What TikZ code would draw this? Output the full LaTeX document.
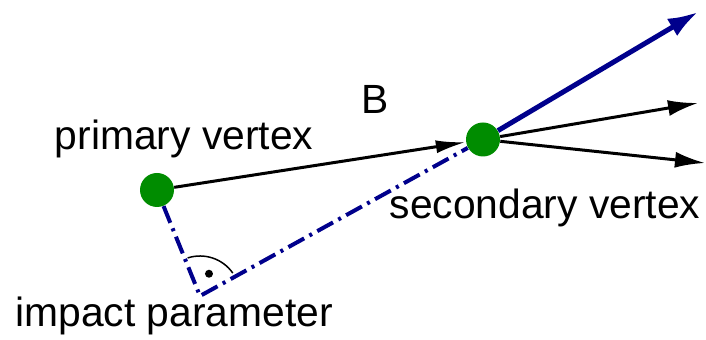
\documentclass[tikz,border=0pt]{standalone}
\usepackage{fontspec}
\setmainfont{Liberation Sans}
\usetikzlibrary{arrows.meta}
\definecolor{vtxgreen}{RGB}{0,140,0}
\definecolor{trkblue}{RGB}{0,0,140}

\begin{document}
\begin{tikzpicture}[x=0.5pt,y=0.5pt,>=Latex,
    vertex/.style={circle,fill=vtxgreen,inner sep=0pt,minimum size=17pt},
    track/.style={line width=1.5pt,-{Latex[length=15pt,width=8pt]}},
    btrack/.style={trkblue,line width=2.5pt,-{Latex[length=15pt,width=10pt]}},
    ipline/.style={trkblue,line width=2pt,dash pattern=on 9pt off 3pt on 1.5pt off 3pt},
    every node/.style={font=\fontsize{20.4}{24}\selectfont}]
  \useasboundingbox (0,0) rectangle (706,340);
  % vertices and the ends of the outgoing tracks
  \node[vertex] (pv) at (157,150) {};
  \node[vertex] (sv) at (483,200.5) {};
  \coordinate (t1) at (698,328);
  \coordinate (t2) at (698,237);
  \coordinate (t3) at (705,177);
  \coordinate (foot) at (200,44);
  % flight of the B and the decay products
  \draw[track,-{Latex[length=15pt,width=6.5pt]}] (pv) -- (sv);
  \draw[btrack] (sv) -- (t1);
  \draw[track] (sv) -- (t2);
  \draw[track] (sv) -- (t3);
  % impact parameter
  \draw[ipline] (pv) -- (foot) -- (sv);
  \draw[line width=0.75pt] ([shift={(35:20pt)}]foot) arc[start angle=35,end angle=108,radius=20pt];
  \fill ([shift={(68:12pt)}]foot) circle (2pt);
  % labels
  \node (lB) at (375,241) {B};
  \node[anchor=base] (lpv) at (184,190) {primary vertex};
  \node[anchor=base] (lsv) at (545,121) {secondary vertex};
  \node[anchor=base] (lip) at (174,13) {impact parameter};
\end{tikzpicture}
\end{document}
